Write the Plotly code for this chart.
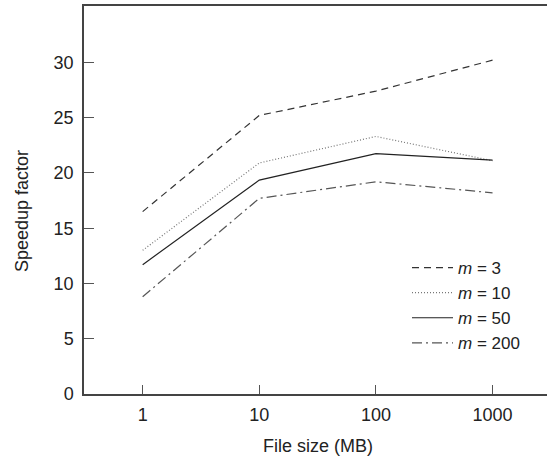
import plotly.graph_objects as go

file_sizes = [1, 10, 100, 1000]
tick_vals = [1, 10, 100, 1000]
tick_text = ["1", "10", "100", "1000"]
y_ticks = [0, 5, 10, 15, 20, 25, 30]

m3 = [16.5, 25.2, 27.4, 30.2]
m10 = [13.0, 20.9, 23.3, 21.1]
m50 = [11.7, 19.35, 21.75, 21.15]
m200 = [8.8, 17.7, 19.2, 18.2]

series = [
    ("<i>m</i> = 3", m3, "#333333", "7px,5px"),
    ("<i>m</i> = 10", m10, "#777777", "1px,2px"),
    ("<i>m</i> = 50", m50, "#222222", "solid"),
    ("<i>m</i> = 200", m200, "#555555", "10px,4px,2px,4px"),
]

fig = go.Figure()
for name, vals, color, dash in series:
    fig.add_trace(go.Scatter(
        x=file_sizes, y=vals, mode="lines", name=name,
        line=dict(color=color, width=1.2, dash=dash),
    ))

FS = 18
font = dict(family="Liberation Sans, Arial, sans-serif", size=FS, color="#222222")
legend_font = dict(family="Liberation Sans, Arial, sans-serif", size=17, color="#222222")

L, T, B, R = 84, 6, 68, 0
PW, PH = 547 - L - R, 462 - T - B

fig.update_layout(
    width=547, height=462,
    margin=dict(l=L, r=R, t=T, b=B),
    paper_bgcolor="white", plot_bgcolor="white",
    font=font,
    showlegend=True,
    legend=dict(x=(407 - L) / PW, y=(394 - 250) / PH, xanchor="left", yanchor="top",
                bgcolor="rgba(0,0,0,0)", font=legend_font,
                tracegroupgap=0, itemwidth=41),
    xaxis=dict(type="log", range=[-0.503, 3.467], tickvals=tick_vals, ticktext=tick_text,
               ticks="inside", ticklen=9, tickcolor="#555555", tickwidth=1,
               showline=True, linecolor="#444444", linewidth=1.5, mirror=True,
               showgrid=False, zeroline=False, tickfont=font, ticklabelstandoff=4),
    yaxis=dict(range=[0, 35.1], tickvals=y_ticks,
               ticks="inside", ticklen=10, tickcolor="#555555", tickwidth=1,
               showline=True, linecolor="#444444", linewidth=1.5,
               showgrid=False, zeroline=False, tickfont=font, ticklabelstandoff=5),
    annotations=[
        dict(text="File size (MB)", xref="paper", yref="paper", x=(318 - L) / PW,
             y=-(446 - 394) / PH, xanchor="center", yanchor="middle",
             showarrow=False, font=font),
        dict(text="Speedup factor", xref="paper", yref="paper", x=-(L - 22) / PW,
             y=(394 - 211) / PH, xanchor="center", yanchor="middle", textangle=-90,
             showarrow=False, font=font),
    ],
)

fig.write_html("out.html", post_script="document.body.style.margin='0px';",
               config={"displayModeBar": False})
